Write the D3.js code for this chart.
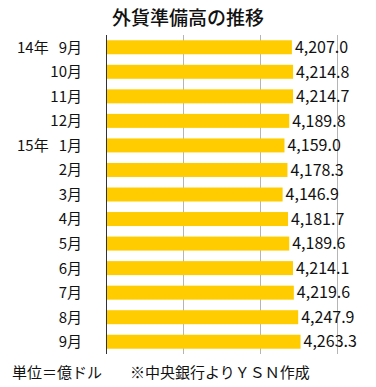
<!DOCTYPE html>
<html>
<head>
<meta charset="utf-8">
<script src="https://cdn.jsdelivr.net/npm/d3@7"></script>
<style>
  body { margin: 0; background: #fff; }
  text { font-family: "Noto Sans CJK JP", "Noto Sans", sans-serif; fill: #111; }
</style>
</head>
<body>
<div id="chart"></div>
<script>
// data (unit: 100 million dollars)
const months = ["9月", "10月", "11月", "12月", "1月", "2月", "3月", "4月", "5月", "6月", "7月", "8月", "9月"];
const years = ["14年", "", "", "", "15年", "", "", "", "", "", "", "", ""];
const reserves = [4207.0, 4214.8, 4214.7, 4189.8, 4159.0, 4178.3, 4146.9, 4181.7, 4189.6, 4214.1, 4219.6, 4247.9, 4263.3];
const xTicks = [3000, 3500, 4000, 4500];

let svgWidth = 376;
let svgHeight = 387;

let svg = d3.select("#chart")
  .append("svg")
  .attr("width", svgWidth)
  .attr("height", svgHeight);

let keys = d3.range(reserves.length);

// axis runs from 3000 to 4500
let x = d3.scaleLinear()
  .domain([3000, 4500])
  .range([106, 337]);

let y = d3.scaleBand()
  .domain(keys)
  .range([35, 354])
  .paddingInner(0.43)
  .paddingOuter(0.215);

// gridlines
svg.append("g")
  .selectAll("line")
  .data(xTicks.slice(1))
  .enter()
  .append("line")
  .attr("x1", d => x(d) + 0.5)
  .attr("x2", d => x(d) + 0.5)
  .attr("y1", 35)
  .attr("y2", 354)
  .attr("stroke", "#b5b5b5")
  .attr("stroke-width", 1);

// bars
svg.append("g")
  .selectAll("rect")
  .data(reserves)
  .enter()
  .append("rect")
  .attr("x", x(3000))
  .attr("y", (d, i) => y(i))
  .attr("width", d => x(d) - x(3000))
  .attr("height", y.bandwidth())
  .attr("fill", "#ffcc00");

// left axis line
svg.append("line")
  .attr("x1", x(3000) + 0.5)
  .attr("x2", x(3000) + 0.5)
  .attr("y1", 35)
  .attr("y2", 354)
  .attr("stroke", "#333")
  .attr("stroke-width", 1);

// value labels
svg.append("g")
  .selectAll("text")
  .data(reserves)
  .enter()
  .append("text")
  .attr("x", d => x(d) + 3)
  .attr("y", (d, i) => y(i) + y.bandwidth() / 2)
  .attr("dy", "0.36em")
  .attr("font-size", "16px")
  .text(d => d3.format(",.1f")(d));

// month labels
svg.append("g")
  .selectAll("text")
  .data(months)
  .enter()
  .append("text")
  .attr("x", 82)
  .attr("y", (d, i) => y(i) + y.bandwidth() / 2)
  .attr("dy", "0.36em")
  .attr("text-anchor", "end")
  .attr("font-size", "15px")
  .text(d => d);

// year labels
svg.append("g")
  .selectAll("text")
  .data(years)
  .enter()
  .append("text")
  .attr("x", 17)
  .attr("y", (d, i) => y(i) + y.bandwidth() / 2)
  .attr("dy", "0.36em")
  .attr("font-size", "15px")
  .text(d => d);

// title
svg.append("text")
  .attr("x", 188)
  .attr("y", 18)
  .attr("dy", "0.36em")
  .attr("text-anchor", "middle")
  .attr("font-size", "19px")
  .attr("font-weight", 500)
  .text("外貨準備高の推移");

// notes
svg.append("text")
  .attr("x", 12)
  .attr("y", 373)
  .attr("dy", "0.36em")
  .attr("font-size", "15px")
  .text("単位＝億ドル");

svg.append("text")
  .attr("x", 130)
  .attr("y", 373)
  .attr("dy", "0.36em")
  .attr("font-size", "15px")
  .text("※中央銀行よりＹＳＮ作成");
</script>
</body>
</html>
